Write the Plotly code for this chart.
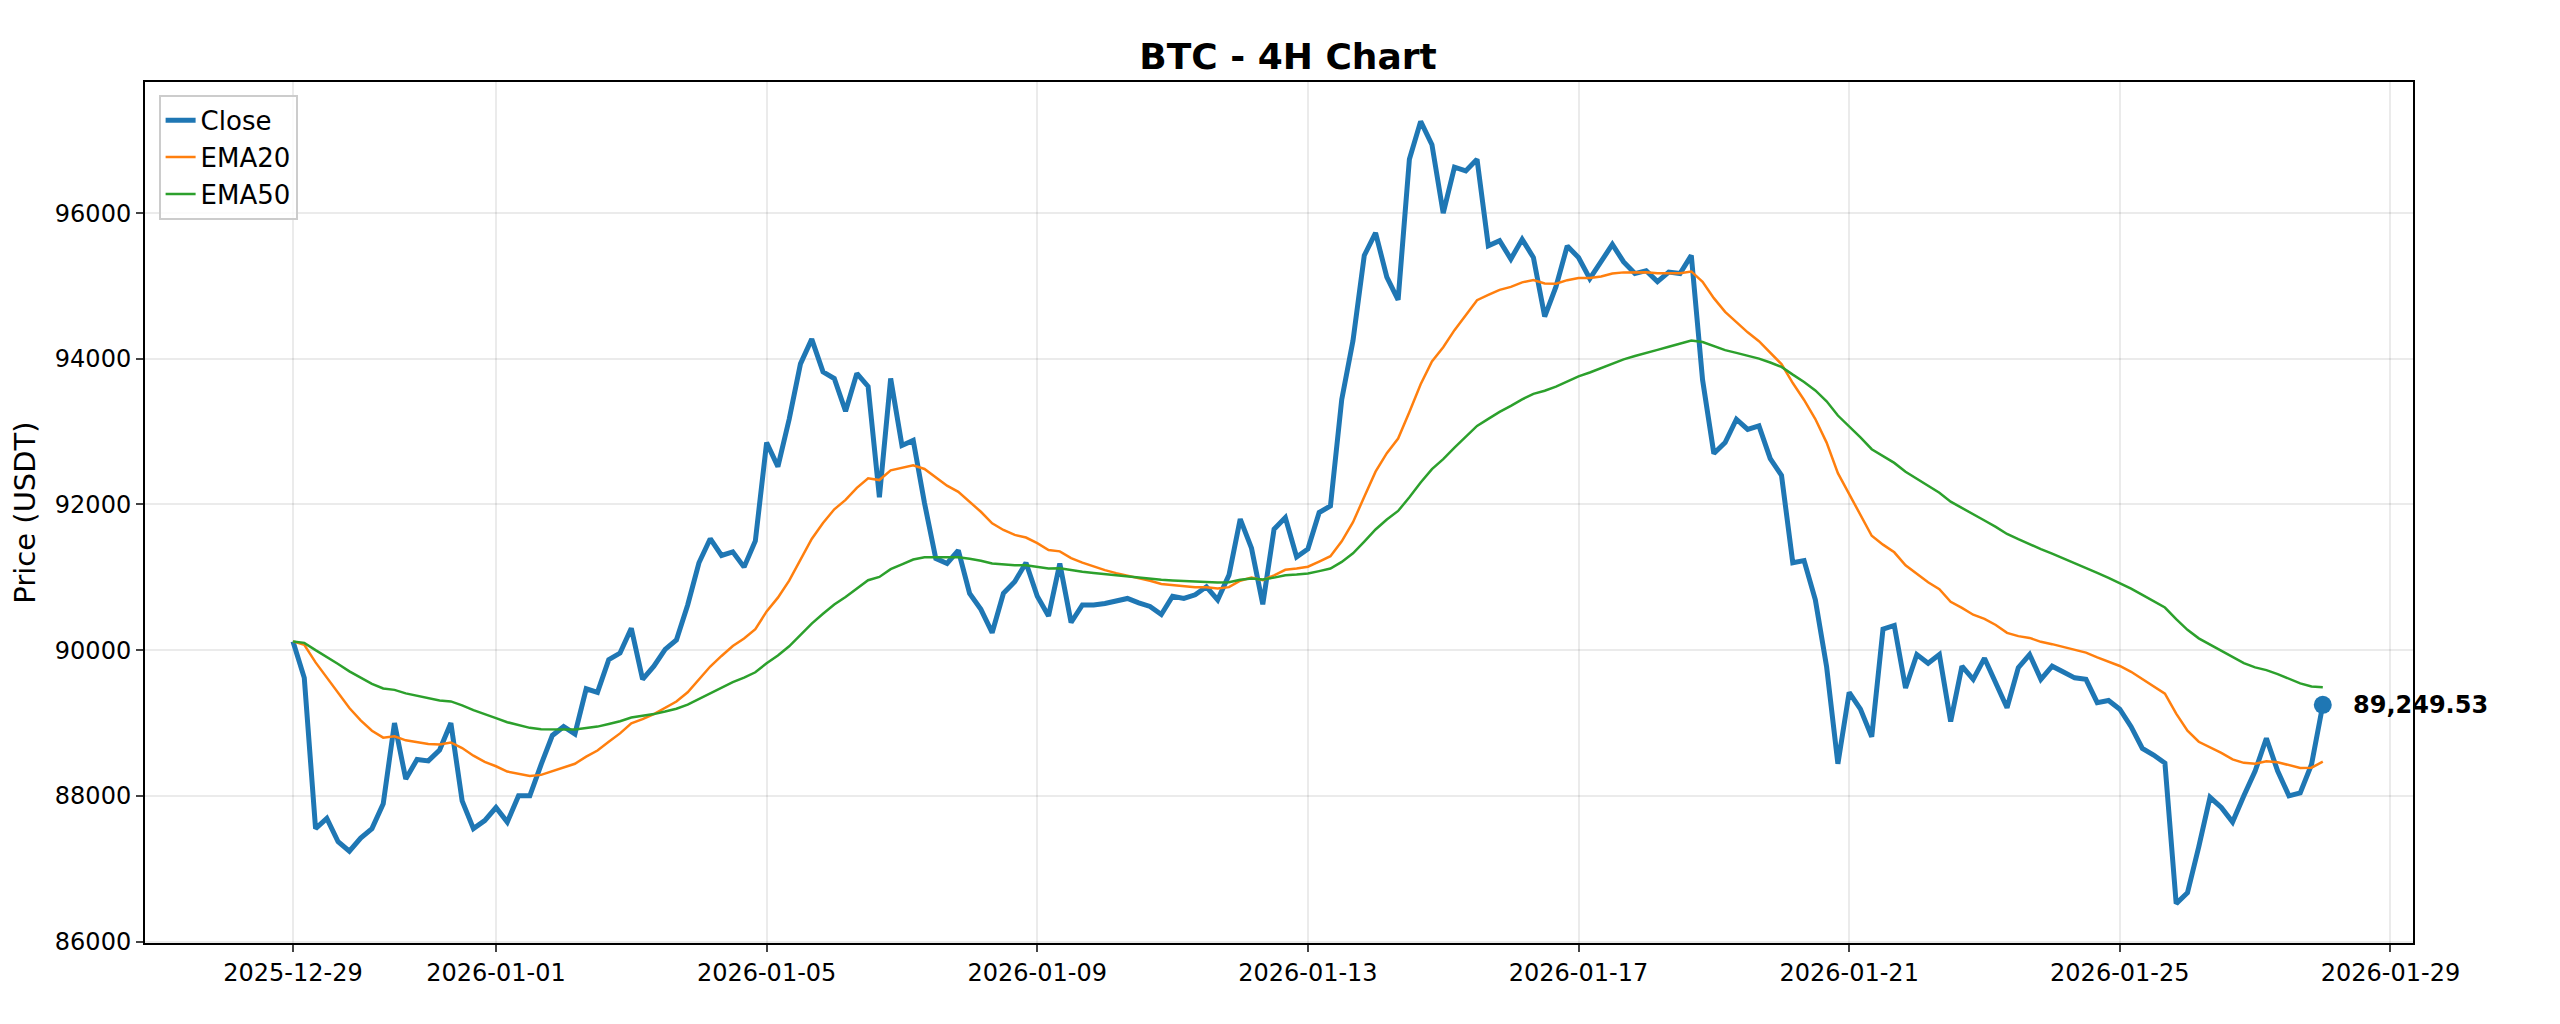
import pandas as pd
import plotly.graph_objects as go

start = "2025-12-29 00:00"

close = [
    90120, 89620, 87550, 87690, 87370, 87240, 87420, 87550, 87890, 89000,
    88230, 88500, 88480, 88630, 89000, 87930, 87550, 87660, 87840, 87640,
    88000, 88000, 88430, 88830, 88950, 88850, 89470, 89420, 89870, 89960,
    90300, 89600, 89780, 90010, 90140, 90620, 91200, 91530, 91300, 91350,
    91140, 91500, 92850, 92520, 93170, 93930, 94270, 93820, 93730, 93280,
    93800, 93620, 92100, 93730, 92810, 92880, 92020, 91260, 91190, 91370,
    90780, 90560, 90240, 90780, 90940, 91200, 90740, 90470, 91190, 90380,
    90620, 90620, 90640, 90670, 90710, 90650, 90600, 90490, 90740, 90710,
    90760, 90870, 90690, 91030, 91800, 91400, 90630, 91660, 91820, 91280,
    91390, 91890, 91980, 93440, 94250, 95420, 95730, 95120, 94810, 96740,
    97260, 96940, 96000, 96630, 96580, 96740, 95550, 95620, 95370, 95640,
    95390, 94580, 94990, 95550, 95390, 95100, 95330, 95570, 95330, 95170,
    95210, 95060, 95190, 95170, 95420, 93710, 92700, 92850, 93170, 93030,
    93080, 92630, 92400, 91200, 91230, 90690, 89770, 88440, 89420, 89190,
    88810, 90290, 90340, 89480, 89940, 89820, 89940, 89020, 89780, 89600,
    89890, 89550, 89210, 89760, 89940, 89600, 89780, 89700, 89620, 89600,
    89280, 89310, 89190, 88950, 88650, 88560, 88450, 86520, 86670, 87300,
    87980, 87840, 87640, 88000, 88340, 88790, 88340, 88000, 88040, 88430,
    89249.53,
]

tick_dates = ["2025-12-29", "2026-01-01", "2026-01-05", "2026-01-09", "2026-01-13",
              "2026-01-17", "2026-01-21", "2026-01-25", "2026-01-29"]

df = pd.DataFrame({"close": close},
                  index=pd.date_range(start, periods=len(close), freq="4h"))
df["ema20"] = df["close"].ewm(span=20, adjust=False).mean()
df["ema50"] = df["close"].ewm(span=50, adjust=False).mean()

fig = go.Figure()
fig.add_trace(go.Scatter(x=df.index, y=df["close"], mode="lines", name="Close",
                         line=dict(color="#1f77b4", width=5)))
fig.add_trace(go.Scatter(x=df.index, y=df["ema20"], mode="lines", name="EMA20",
                         line=dict(color="#ff7f0e", width=2.5)))
fig.add_trace(go.Scatter(x=df.index, y=df["ema50"], mode="lines", name="EMA50",
                         line=dict(color="#2ca02c", width=2.5)))

last_x = df.index[-1]
last_y = df["close"].iloc[-1]
fig.add_trace(go.Scatter(x=[last_x], y=[last_y], mode="markers", showlegend=False,
                         marker=dict(color="#1f77b4", size=18)))
fig.add_annotation(x=last_x, y=last_y, text=f"<b>{last_y:,.2f}</b>", showarrow=False,
                   xanchor="left", xshift=28, font=dict(size=24, color="black"))

fig.update_layout(
    width=2560, height=1024,
    paper_bgcolor="white", plot_bgcolor="white",
    font=dict(family="DejaVu Sans", size=24, color="black"),
    title=dict(text="<b>BTC - 4H Chart</b>", x=0.5, xanchor="center", y=0.965,
               font=dict(size=36)),
    margin=dict(l=135, r=155, t=74, b=89),
    legend=dict(x=0.006, y=0.985, xanchor="left", yanchor="top",
                bgcolor="rgba(255,255,255,0.8)", bordercolor="#cccccc", borderwidth=2,
                font=dict(size=26)),
)
fig.update_xaxes(range=["2025-12-26 19:30", "2026-01-29 08:00"],
                 tickvals=tick_dates, ticktext=tick_dates,
                 showline=True, linecolor="black", linewidth=2, mirror=True,
                 ticks="outside", ticklen=7, tickwidth=2,
                 showgrid=True, gridcolor="rgba(0,0,0,0.08)", gridwidth=2)
fig.update_yaxes(range=[85980, 97800], dtick=2000, tickformat="d",
                 title=dict(text="Price (USDT)", standoff=15),
                 showline=True, linecolor="black", linewidth=2, mirror=True,
                 ticks="outside", ticklen=7, tickwidth=2, zeroline=False,
                 showgrid=True, gridcolor="rgba(0,0,0,0.08)", gridwidth=2)

fig.write_html("out.html")
